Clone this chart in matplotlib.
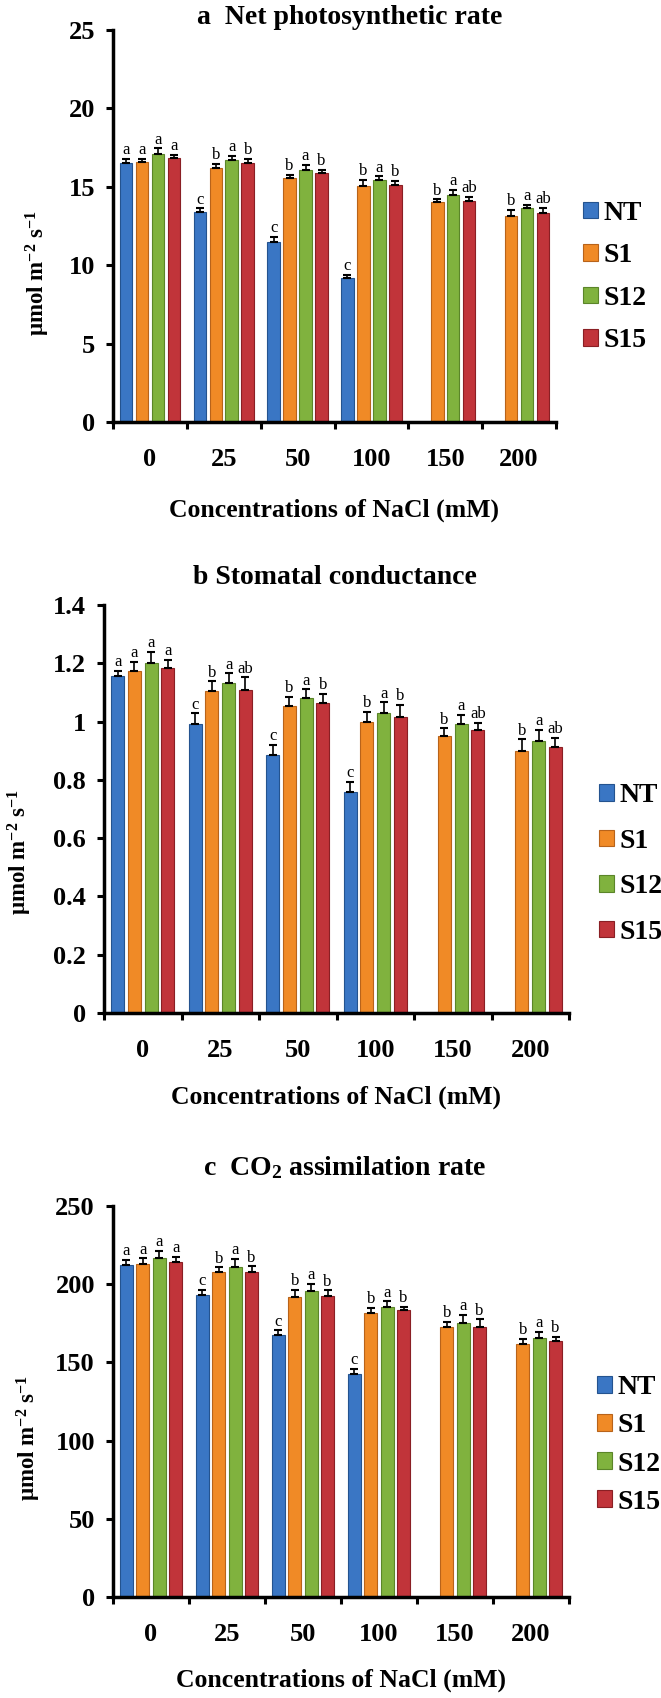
import numpy as np
import matplotlib
matplotlib.use("Agg")
import matplotlib.pyplot as plt
from matplotlib.patches import Rectangle

# categories and series
concentrations = ["0", "25", "50", "100", "150", "200"]
series = ["NT", "S1", "S12", "S15"]

# a  Net photosynthetic rate (rows: NT, S1, S12, S15)
pn_mean = [[16.5, 13.4, 11.5, 9.2, None, None],
           [16.6, 16.2, 15.55, 15.05, 14.0, 13.15],
           [17.1, 16.7, 16.05, 15.45, 14.45, 13.65],
           [16.85, 16.5, 15.85, 15.12, 14.1, 13.3]]
pn_err = [[0.28, 0.22, 0.3, 0.2, None, None],
          [0.2, 0.28, 0.21, 0.38, 0.2, 0.38],
          [0.36, 0.26, 0.36, 0.21, 0.35, 0.2],
          [0.17, 0.28, 0.21, 0.28, 0.25, 0.35]]
pn_letters = [["a", "c", "c", "c", "", ""],
              ["a", "b", "b", "b", "b", "b"],
              ["a", "a", "a", "a", "a", "a"],
              ["a", "b", "b", "b", "ab", "ab"]]

# b  Stomatal conductance
gs_mean = [[1.155, 0.99, 0.885, 0.76, None, None],
           [1.172, 1.105, 1.053, 1.0, 0.952, 0.9],
           [1.2, 1.133, 1.08, 1.03, 0.99, 0.933],
           [1.185, 1.11, 1.065, 1.015, 0.972, 0.912]]
gs_err = [[0.02, 0.038, 0.035, 0.034, None, None],
          [0.033, 0.033, 0.033, 0.034, 0.025, 0.039],
          [0.04, 0.032, 0.031, 0.036, 0.032, 0.038],
          [0.026, 0.042, 0.029, 0.043, 0.023, 0.032]]
gs_letters = [["a", "c", "c", "c", "", ""],
              ["a", "b", "b", "b", "b", "b"],
              ["a", "a", "a", "a", "a", "a"],
              ["a", "ab", "b", "b", "ab", "ab"]]

# c  CO2 assimilation rate
co2_mean = [[212, 193, 167.5, 142.5, None, None],
            [213, 207.5, 191.5, 181.5, 172.5, 162],
            [217, 211, 195.5, 185.5, 175.5, 165.5],
            [214, 208, 192.5, 183.5, 172.5, 163.5]]
co2_err = [[3.5, 3.5, 3.0, 3.5, None, None],
           [3.5, 3.3, 4.7, 3.5, 3.3, 3.0],
           [4.2, 5.0, 4.9, 3.5, 4.9, 4.0],
           [3.5, 3.5, 3.5, 2.0, 5.0, 3.0]]
co2_letters = [["a", "c", "c", "c", "", ""],
               ["a", "b", "b", "b", "b", "b"],
               ["a", "a", "a", "a", "a", "a"],
               ["a", "b", "b", "b", "b", "b"]]

colores = ["#3a76c4", "#f08a26", "#80b23e", "#c1343a"]
bordes = ["#24538f", "#b8631a", "#5b8529", "#8a1f24"]

plt.rcParams['font.family'] = ['Liberation Serif', 'DejaVu Serif']
plt.rcParams['font.weight'] = 'bold'
plt.rcParams['mathtext.fontset'] = 'custom'
plt.rcParams['mathtext.rm'] = 'Liberation Serif:bold'
plt.rcParams['mathtext.bf'] = 'Liberation Serif:bold'
plt.rcParams['mathtext.it'] = 'Liberation Serif:bold'

W, H = 661, 1698


def px_rect(left, right, top, bottom):
    return [left / W, 1 - bottom / H, (right - left) / W, (bottom - top) / H]


def dibujar_panel(fig, rect, medias, errores, letras, ymax, yticks, ylabels,
                  leg_x, leg_y, leg_spacing):
    ax = fig.add_axes(rect)
    x = np.arange(len(concentrations))
    paso = 0.216
    ancho = 0.17
    for j in range(len(series)):
        pos, alt, err, lab = [], [], [], []
        for i in range(len(concentrations)):
            if medias[j][i] is None:
                continue
            pos.append(x[i] + (j - 1.5) * paso)
            alt.append(medias[j][i])
            err.append(errores[j][i])
            lab.append(letras[j][i])
        ax.bar(pos, alt, width=ancho, color=colores[j], edgecolor=bordes[j],
               linewidth=0.8, zorder=2)
        ax.errorbar(pos, alt, yerr=[np.zeros(len(err)), err], fmt='none',
                    ecolor='black', elinewidth=1.2, capsize=3, capthick=1.5, zorder=3)
        for p, v, e, t in zip(pos, alt, err, lab):
            ax.annotate(t, (p, v + e), xytext=(0, 0.5), textcoords='offset points',
                        ha='center', va='bottom', fontsize=12, fontweight='normal')

    ax.set_xlim(-0.5, len(concentrations) - 0.5)
    ax.set_ylim(0, ymax)
    ax.set_yticks(yticks)
    ax.set_yticklabels(ylabels)
    ax.set_xticks(x)
    ax.set_xticklabels(concentrations)
    ax.set_xticks(np.arange(-0.5, len(concentrations)), minor=True)
    ax.tick_params(axis='x', which='major', length=0, pad=19, labelsize=19)
    ax.tick_params(axis='x', which='minor', length=5, width=2.2, direction='out')
    ax.tick_params(axis='y', length=5, width=2.2, direction='out', labelsize=19, pad=8)
    ax.spines['top'].set_visible(False)
    ax.spines['right'].set_visible(False)
    ax.spines['left'].set_linewidth(2.5)
    ax.spines['bottom'].set_linewidth(2.5)

    handles = [Rectangle((0, 0), 1, 1, facecolor=colores[k], edgecolor=bordes[k],
                         linewidth=0.8) for k in range(len(series))]
    fig.legend(handles, series, loc='center left',
               bbox_to_anchor=(leg_x / W, 1 - leg_y / H), frameon=False,
               fontsize=20, handlelength=0.55, handleheight=0.55, handletextpad=0.2,
               labelspacing=leg_spacing, borderpad=0, borderaxespad=0)
    return ax


def generar_grafica():
    fig = plt.figure(figsize=(W / 100, H / 100), dpi=100)
    ylab = r"µmol m$^{-2}$ s$^{-1}$"
    xlab = "Concentrations of NaCl (mM)"

    # panel a
    dibujar_panel(fig, px_rect(113, 556, 30, 422), pn_mean, pn_err, pn_letters, 25,
                  [0, 5, 10, 15, 20, 25], ["0", "5", "10", "15", "20", "25"],
                  583, 277, 0.63)
    fig.text(350 / W, 1 - 17 / H, "a  Net photosynthetic rate", ha='center', va='center',
             fontsize=20)
    fig.text(334 / W, 1 - 510 / H, xlab, ha='center', va='center', fontsize=18.5)
    fig.text(38 / W, 1 - 273 / H, ylab, ha='center', va='center', rotation=90, fontsize=16.5)

    # panel b
    dibujar_panel(fig, px_rect(104, 569, 605, 1013), gs_mean, gs_err, gs_letters, 1.4,
                  [0, 0.2, 0.4, 0.6, 0.8, 1.0, 1.2, 1.4],
                  ["0", "0.2", "0.4", "0.6", "0.8", "1", "1.2", "1.4"],
                  599, 864, 0.74)
    fig.text(335 / W, 1 - 577 / H, "b Stomatal conductance", ha='center', va='center',
             fontsize=20)
    fig.text(336 / W, 1 - 1097 / H, xlab, ha='center', va='center', fontsize=18.5)
    fig.text(20 / W, 1 - 852 / H, ylab, ha='center', va='center', rotation=90, fontsize=16.5)

    # panel c
    dibujar_panel(fig, px_rect(113, 569, 1206, 1597), co2_mean, co2_err, co2_letters, 250,
                  [0, 50, 100, 150, 200, 250], ["0", "50", "100", "150", "200", "250"],
                  597, 1445, 0.47)
    fig.text(345 / W, 1 - 1168 / H, r"c  CO$_{2}$ assimilation rate", ha='center',
             va='center', fontsize=20)
    fig.text(341 / W, 1 - 1680 / H, xlab, ha='center', va='center', fontsize=18.5)
    fig.text(29 / W, 1 - 1438 / H, ylab, ha='center', va='center', rotation=90, fontsize=16.5)

    fig.savefig("out.png", dpi=100)
    print("--- [OK] out.png ---")


if __name__ == "__main__":
    generar_grafica()
